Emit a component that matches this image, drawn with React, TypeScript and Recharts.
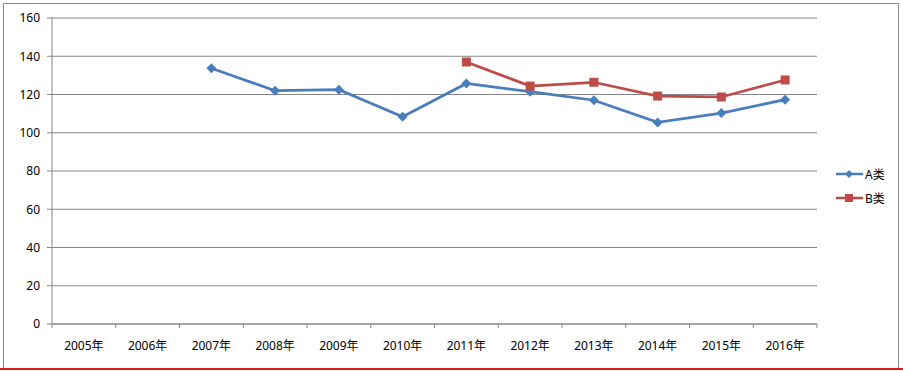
import { CartesianGrid, Line, LineChart, XAxis, YAxis } from 'recharts';

// categories + series (null = no data that year)
const years = ['2005年', '2006年', '2007年', '2008年', '2009年', '2010年', '2011年', '2012年', '2013年', '2014年', '2015年', '2016年'];
const seriesA = [null, null, 133.7, 122.0, 122.5, 108.4, 125.8, 121.5, 117.0, 105.4, 110.3, 117.3];
const seriesB = [null, null, null, null, null, null, 137.0, 124.4, 126.4, 119.2, 118.7, 127.6];
const yTicks = [0, 20, 40, 60, 80, 100, 120, 140, 160];
const seriesNames = ['A类', 'B类'];

const data = years.map((year, i) => ({ year, a: seriesA[i], b: seriesB[i] }));

const W = 903;
const H = 371;
const MARGIN = { top: 18, right: 86, left: 0, bottom: 17 };
const Y_AXIS_W = 52;
const HALF_BAND = (W - MARGIN.right - MARGIN.left - Y_AXIS_W) / years.length / 2;

const BLUE = '#4A7EBB';
const RED = '#BE4B48';
const AXIS = '#868686';
const FONT = '"Noto Sans", "Noto Sans CJK SC", sans-serif';

// Excel-style category axis: label at band centre, tick marks at band edges
function YearTick(props: any) {
  const { x, y, payload, index } = props;
  return (
    <g>
      <line x1={x - HALF_BAND} y1={y} x2={x - HALF_BAND} y2={y + 4} stroke={AXIS} />
      {index === years.length - 1 && (
        <line x1={x + HALF_BAND} y1={y} x2={x + HALF_BAND} y2={y + 4} stroke={AXIS} />
      )}
      <text x={x} y={y + 26} textAnchor="middle" fontSize={12} fontFamily={FONT} fill="#000">
        {payload.value}
      </text>
    </g>
  );
}

function Diamond(props: any) {
  const { cx, cy, index } = props;
  if (cx == null || cy == null) return <g key={`da-${index}`} />;
  const r = 5;
  return (
    <path
      key={`da-${index}`}
      d={`M${cx},${cy - r}L${cx + r},${cy}L${cx},${cy + r}L${cx - r},${cy}Z`}
      fill={BLUE}
    />
  );
}

function Square(props: any) {
  const { cx, cy, index } = props;
  if (cx == null || cy == null) return <g key={`sb-${index}`} />;
  return <rect key={`sb-${index}`} x={cx - 4.5} y={cy - 4.5} width={9} height={9} fill={RED} />;
}

function LegendItem({ name, color, square }: { name: string; color: string; square: boolean }) {
  return (
    <div style={{ display: 'flex', alignItems: 'center', height: 24 }}>
      <svg width={28} height={12}>
        <line x1={0} y1={6} x2={27} y2={6} stroke={color} strokeWidth={2.5} />
        {square ? (
          <rect x={9} y={2} width={8} height={8} fill={color} />
        ) : (
          <path d="M13,2L17,6L13,10L9,6Z" fill={color} />
        )}
      </svg>
      <span style={{ fontSize: 12, fontFamily: FONT, marginLeft: 1 }}>{name}</span>
    </div>
  );
}

export default function App() {
  return (
    <div style={{ position: 'absolute', left: 0, top: 0, width: W, height: H, background: '#fff', overflow: 'hidden' }}>
      <div
        style={{
          position: 'absolute',
          left: 3,
          top: 3,
          width: 896,
          height: 366,
          border: '1px solid #8a8a8a',
          boxSizing: 'border-box',
        }}
      />
      <LineChart width={W} height={H} data={data} margin={MARGIN}>
        <CartesianGrid vertical={false} stroke={AXIS} />
        <XAxis
          dataKey="year"
          padding={{ left: HALF_BAND, right: HALF_BAND }}
          axisLine={{ stroke: AXIS }}
          tickLine={false}
          tickSize={0}
          tickMargin={0}
          height={30}
          interval={0}
          tick={<YearTick />}
        />
        <YAxis
          width={Y_AXIS_W}
          domain={[0, 160]}
          ticks={yTicks}
          interval={0}
          axisLine={{ stroke: AXIS }}
          tickLine={{ stroke: AXIS }}
          tickSize={5}
          tickMargin={7}
          tick={{ fontSize: 12, fontFamily: FONT, fill: '#000' }}
        />
        <Line
          dataKey="a"
          name={seriesNames[0]}
          stroke={BLUE}
          strokeWidth={2.75}
          dot={Diamond}
          isAnimationActive={false}
        />
        <Line
          dataKey="b"
          name={seriesNames[1]}
          stroke={RED}
          strokeWidth={2.75}
          dot={Square}
          isAnimationActive={false}
        />
      </LineChart>
      <div style={{ position: 'absolute', left: 836, top: 162 }}>
        <LegendItem name={seriesNames[0]} color={BLUE} square={false} />
        <LegendItem name={seriesNames[1]} color={RED} square />
      </div>
      <div style={{ position: 'absolute', left: 0, top: 368, width: W, height: 2, background: '#e21a1a' }} />
    </div>
  );
}
